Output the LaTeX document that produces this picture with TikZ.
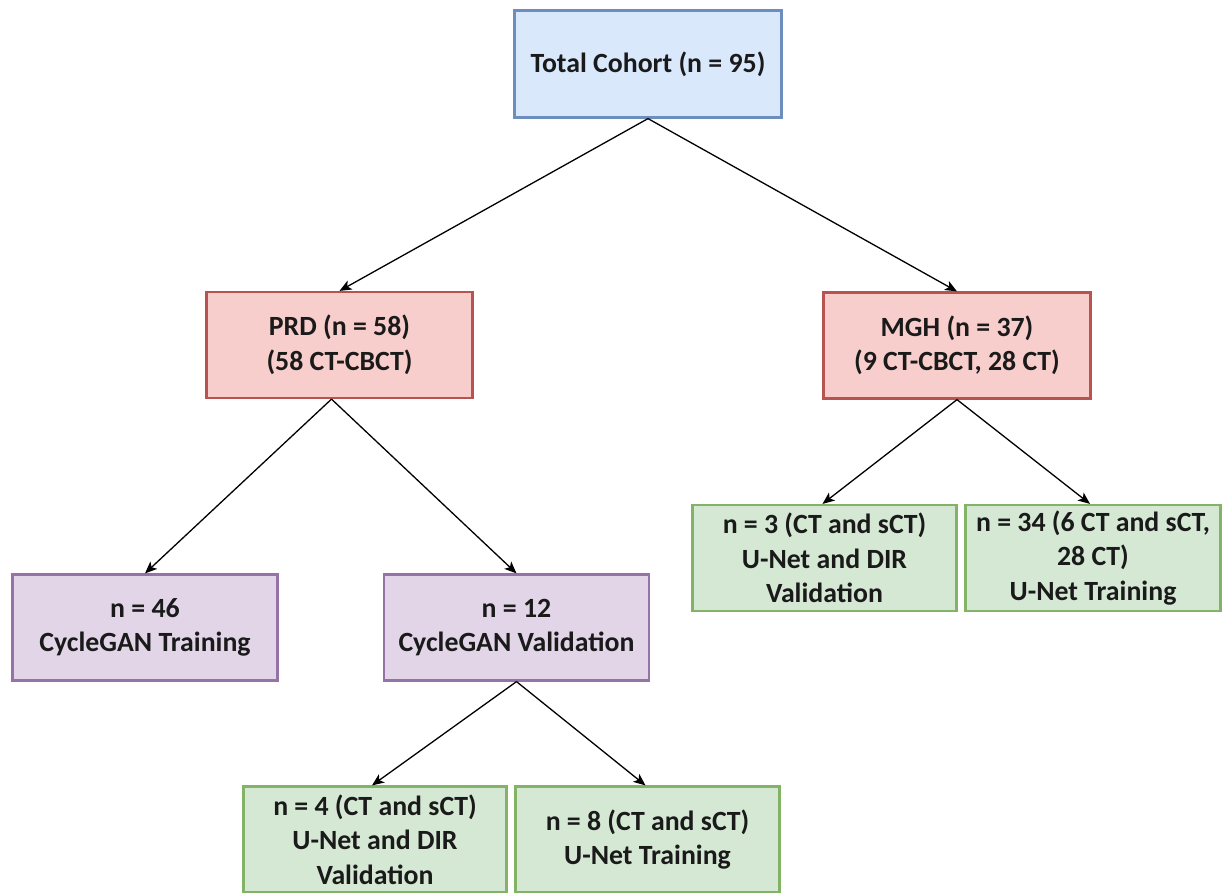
\documentclass[tikz,border=0pt]{standalone}
\usepackage{fontspec}
\setmainfont{Carlito}
\usetikzlibrary{arrows.meta}
\definecolor{bluefill}{HTML}{DAE8FC}
\definecolor{bluedraw}{HTML}{6C8EBF}
\definecolor{redfill}{HTML}{F8CECC}
\definecolor{reddraw}{HTML}{B85450}
\definecolor{purpfill}{HTML}{E1D5E7}
\definecolor{purpdraw}{HTML}{9673A6}
\definecolor{greenfill}{HTML}{D5E8D4}
\definecolor{greendraw}{HTML}{82B366}
\definecolor{txt}{HTML}{1A1A1A}
\tikzset{
  box/.style={rectangle, draw, line width=2.2pt, align=center, inner sep=0pt,
    minimum height=106pt, text=txt,
    font=\fontsize{27.8}{34.5}\selectfont\bfseries},
  bluebox/.style={box, fill=bluefill, draw=bluedraw},
  redbox/.style={box, fill=redfill, draw=reddraw},
  purpbox/.style={box, fill=purpfill, draw=purpdraw},
  greenbox/.style={box, fill=greenfill, draw=greendraw},
  conn/.style={draw=black, line width=1.3pt, -{Stealth[length=12pt,width=10pt,inset=3pt]}}
}
\begin{document}
\begin{tikzpicture}[x=1pt,y=-1pt]
\useasboundingbox (0,0) rectangle (1223,892);
\node[bluebox, minimum width=267pt, minimum height=107pt] (total) at (648,64) {Total Cohort (n = 95)};
\node[redbox, minimum width=266pt] (prd) at (339.5,345) {PRD (n = 58)\\(58 CT-CBCT)};
\node[redbox, minimum width=267pt] (mgh) at (957,345.5) {MGH (n = 37)\\(9 CT-CBCT, 28 CT)};
\node[purpbox, minimum width=265pt] (n46) at (145,627.5) {n = 46\\CycleGAN Training};
\node[purpbox, minimum width=265pt] (n12) at (516.5,627.5) {n = 12\\CycleGAN Validation};
\node[greenbox, minimum width=264pt] (n3) at (824.5,558) {n = 3 (CT and sCT)\\U-Net and DIR\\Validation};
\node[greenbox, minimum width=255pt] (n34) at (1093,558) {n = 34 (6 CT and sCT,\\28 CT)\\U-Net Training};
\node[greenbox, minimum width=263pt] (n4) at (375,839.5) {n = 4 (CT and sCT)\\U-Net and DIR\\Validation};
\node[greenbox, minimum width=264pt] (n8) at (647.5,839.5) {n = 8 (CT and sCT)\\U-Net Training};
\draw[conn] (total.south) -- (prd.north);
\draw[conn] (total.south) -- (mgh.north);
\draw[conn] ([xshift=-8pt]prd.south) -- (n46.north);
\draw[conn] ([xshift=-8pt]prd.south) -- (n12.north);
\draw[conn] (mgh.south) -- ([xshift=-2pt]n3.north);
\draw[conn] (mgh.south) -- ([xshift=-3pt]n34.north);
\draw[conn] (n12.south) -- ([xshift=-3pt]n4.north);
\draw[conn] (n12.south) -- ([xshift=-2pt]n8.north);
\end{tikzpicture}
\end{document}
